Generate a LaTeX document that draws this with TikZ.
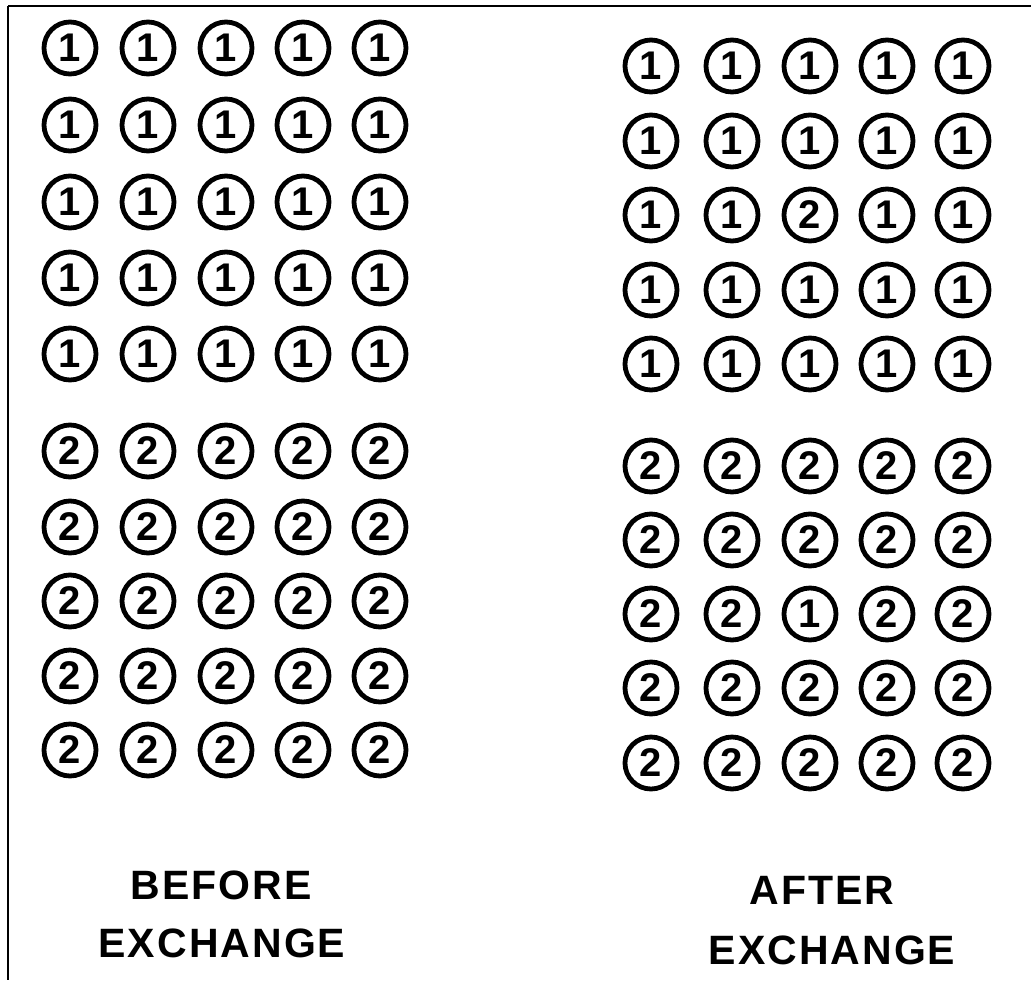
\documentclass[tikz,border=0pt]{standalone}
\usepackage{fontspec}
\setmainfont{Liberation Sans}
\newfontfamily\digitfont{Liberation Sans}
\newfontfamily\labelfont[LetterSpace=5]{Liberation Sans}
\begin{document}
\begin{tikzpicture}[x=1pt,y=-1pt,
  token/.style={circle,draw=black,line width=4.8pt,minimum size=52pt,inner sep=0pt,
    font=\digitfont\bfseries\fontsize{40}{40}\selectfont},
  caption/.style={font=\labelfont\bfseries\fontsize{41}{41}\selectfont,inner sep=0pt}]
\useasboundingbox (0,0) rectangle (1031,986);
\fill[white] (0,0) rectangle (1031,986);
% frame lines
\draw[line width=2.8pt] (8,6) -- (1031,6);
\draw[line width=2.5pt] (8,6) -- (8,980);
% BEFORE
\foreach \r/\y in {1/48,2/125,3/202,4/278,5/354}{
  \foreach \c/\x in {1/70,2/148,3/226,4/303,5/380}{
    \node[token] (Ba\r\c) at (\x,\y) {1};
  }}
\foreach \r/\y in {1/451,2/527,3/601,4/676,5/750}{
  \foreach \c/\x in {1/70,2/148,3/226,4/303,5/380}{
    \node[token] (Bb\r\c) at (\x,\y) {2};
  }}
% AFTER
\foreach \r/\y in {1/66,2/141,3/215,4/290,5/364}{
  \foreach \c/\x in {1/651,2/732,3/810,4/887,5/963}{
    \ifnum\r=3 \ifnum\c=3
      \node[token] (Aa\r\c) at (\x,\y) {2};
    \else
      \node[token] (Aa\r\c) at (\x,\y) {1};
    \fi\else
      \node[token] (Aa\r\c) at (\x,\y) {1};
    \fi
  }}
\foreach \r/\y in {1/466,2/540,3/614,4/688,5/763}{
  \foreach \c/\x in {1/651,2/732,3/810,4/887,5/963}{
    \ifnum\r=3 \ifnum\c=3
      \node[token] (Ab\r\c) at (\x,\y) {1};
    \else
      \node[token] (Ab\r\c) at (\x,\y) {2};
    \fi\else
      \node[token] (Ab\r\c) at (\x,\y) {2};
    \fi
  }}
% captions
\node[caption] (before) at (221,885) {BEFORE};
\node[caption] (bexch) at (222,943) {EXCHANGE};
\node[caption] (after) at (822,890) {AFTER};
\node[caption] (aexch) at (832,950) {EXCHANGE};
\end{tikzpicture}
\end{document}
